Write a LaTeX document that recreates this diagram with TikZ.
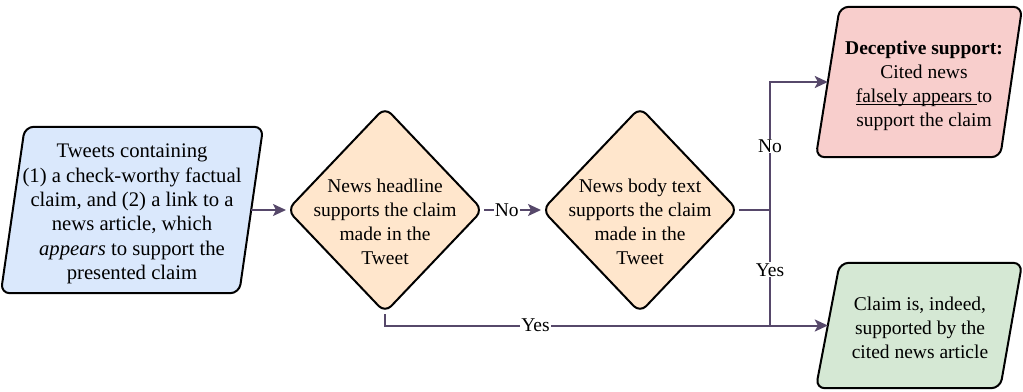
\documentclass[tikz,border=0pt]{standalone}
\usepackage{fontspec}
\setmainfont{Liberation Serif}
\usetikzlibrary{shapes.geometric,arrows.meta,calc}
\newcommand\myunderl[1]{\setbox0\hbox{#1}\rlap{\rule[-2.2pt]{\wd0}{0.9pt}}\box0}
\definecolor{cblue}{HTML}{DAE8FC}
\definecolor{corange}{HTML}{FFE6CC}
\definecolor{cred}{HTML}{F8CECC}
\definecolor{cgreen}{HTML}{D5E8D4}
\definecolor{cline}{HTML}{56486A}
\tikzset{
  txt/.style={align=center,font=\fontsize{19.5}{24}\selectfont,inner sep=0pt},
  para/.style={draw=black,line width=2pt,rounded corners=9pt},
  dec/.style={diamond,draw=black,fill=corange,line width=2pt,rounded corners=9pt,inner sep=0pt,minimum width=196pt,minimum height=206pt},
  conn/.style={draw=cline,line width=2pt},
  arr/.style={conn,-{Stealth[length=13pt,width=12pt,inset=3pt]}},
  lbl/.style={fill=white,inner sep=1pt,font=\fontsize{19.5}{22}\selectfont},
}
\begin{document}
\begin{tikzpicture}[x=1pt,y=-1pt]
\useasboundingbox (0,0) rectangle (1023,391);
% left box
\node[minimum width=238pt,minimum height=166pt,inner sep=0pt] (tw) at (132,210) {};
\fill[cblue,para] ($(tw.north west)+(12,0)$) -- ($(tw.north east)+(12,0)$) -- ($(tw.south east)-(12,0)$) -- ($(tw.south west)-(12,0)$) -- cycle;
\node[txt,font=\fontsize{20.7}{24.4}\selectfont] (twt) at (132,214) {Tweets containing\\(1) a check-worthy factual\\claim, and (2) a link to a\\news article, which\\\emph{appears} to support the\\presented claim};
% diamonds
\node[dec] (d1) at (385,210) {};
\node[txt] (d1t) at (385,222) {News headline\\supports the claim\\made in the\\Tweet};
\node[dec] (d2) at (640,210) {};
\node[txt] (d2t) at (640,222) {News body text\\supports the claim\\made in the\\Tweet};
% top right box
\node[minimum width=183pt,minimum height=150pt,inner sep=0pt] (dc) at (919.5,82) {};
\fill[cred,para] ($(dc.north west)+(12,0)$) -- ($(dc.north east)+(11,0)$) -- ($(dc.south east)-(11,0)$) -- ($(dc.south west)-(12,0)$) -- cycle;
\node[txt] (dct) at (924,86) {\textbf{Deceptive support:}\\Cited news\\\myunderl{falsely appears }to\\support the claim};
% bottom right box
\node[minimum width=183pt,minimum height=125pt,inner sep=0pt] (ok) at (919.5,325.5) {};
\fill[cgreen,para] ($(ok.north west)+(12,0)$) -- ($(ok.north east)+(11,0)$) -- ($(ok.south east)-(11,0)$) -- ($(ok.south west)-(12,0)$) -- cycle;
\node[txt] (okt) at (920,328) {Claim is, indeed,\\supported by the\\cited news article};
% connectors
\coordinate (j) at (770,210);
\coordinate (jt) at (770,82);
\coordinate (jb) at (770,325);
\draw[arr] (tw.east) -- (d1.west);
\draw[arr] (d1.east) -- node[lbl,pos=0.4] {No} (d2.west);
\draw[conn] (d2.east) -- (j);
\draw[arr] (j) -- node[lbl,pos=0.5] {No} (jt) -- (dc.west);
\draw[conn] (j) -- node[lbl,pos=0.52] {Yes} (jb);
\draw[arr] (d1.south) |- node[lbl,pos=0.67] {Yes} (ok.west);
\end{tikzpicture}
\end{document}
